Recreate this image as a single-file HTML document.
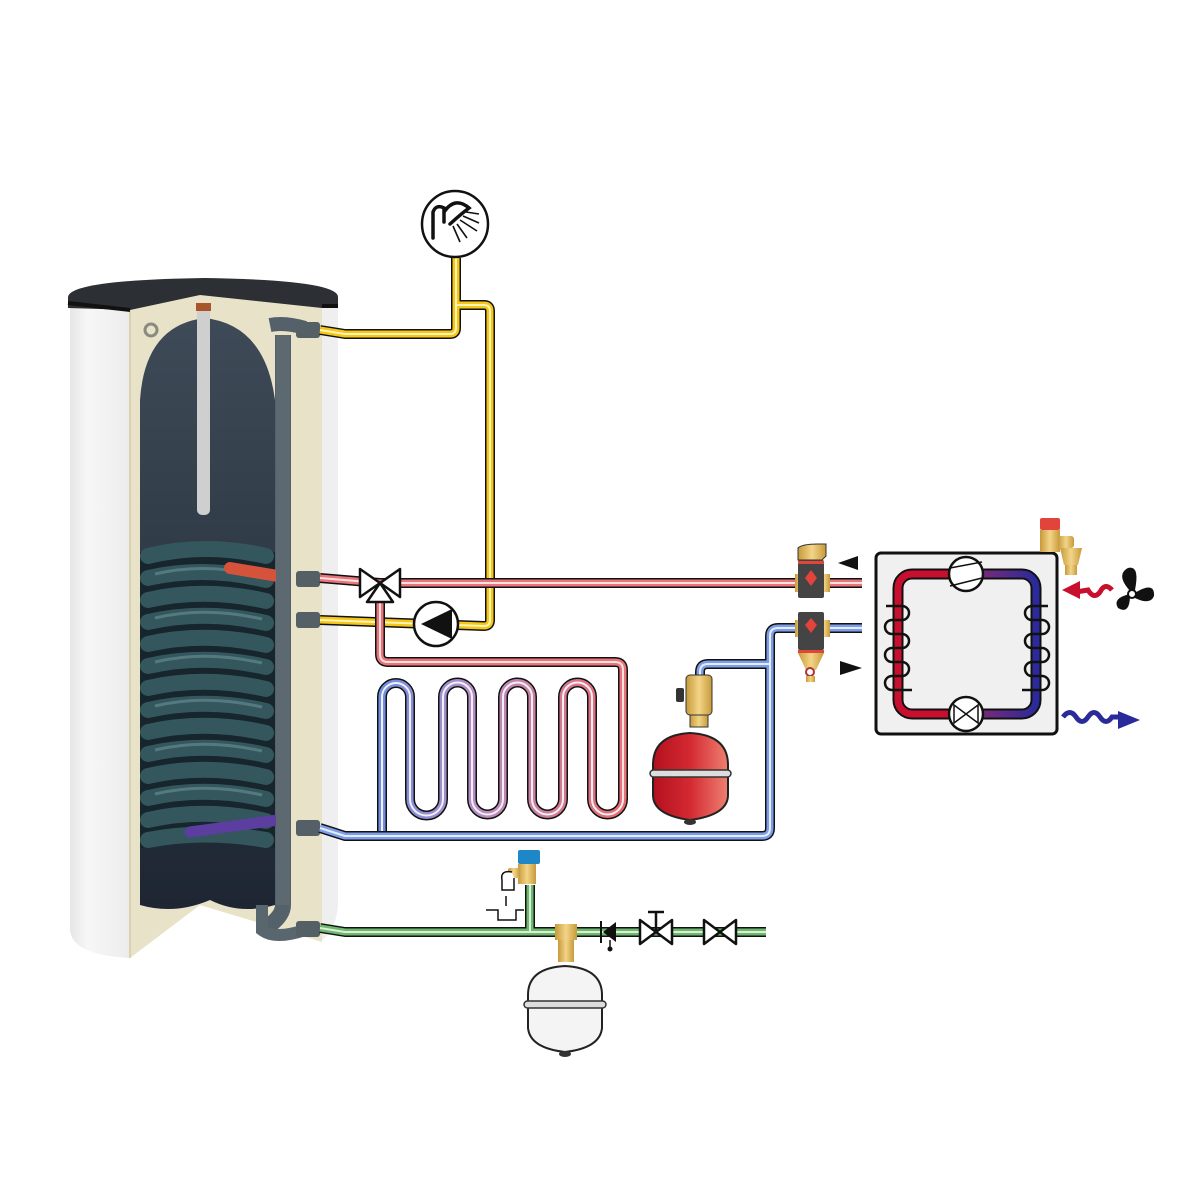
<!DOCTYPE html>
<html><head><meta charset="utf-8"><style>html,body{margin:0;padding:0;background:#fff}svg{display:block}</style></head>
<body>
<svg width="1200" height="1200" viewBox="0 0 1200 1200" xmlns="http://www.w3.org/2000/svg">
<defs>
<linearGradient id="ufh" x1="382" x2="623" y1="0" y2="0" gradientUnits="userSpaceOnUse">
<stop offset="0" stop-color="#6f8fe0"/><stop offset="0.4" stop-color="#b78fc0"/><stop offset="1" stop-color="#e86a6a"/></linearGradient>
<linearGradient id="hpL" x1="0" x2="1"><stop offset="0" stop-color="#c8102e"/><stop offset="0.45" stop-color="#c8102e"/><stop offset="0.6" stop-color="#7a2a78"/><stop offset="1" stop-color="#2a2a9a"/></linearGradient>
<linearGradient id="tankIns" x1="0" x2="1"><stop offset="0" stop-color="#e6e6e6"/><stop offset="0.3" stop-color="#f7f7f7"/><stop offset="1" stop-color="#ececec"/></linearGradient>
<linearGradient id="redv" x1="0" x2="1"><stop offset="0" stop-color="#b3101e"/><stop offset="0.5" stop-color="#d42a32"/><stop offset="1" stop-color="#ee8070"/></linearGradient>
<linearGradient id="inner" x1="0" x2="0" y1="0" y2="1"><stop offset="0" stop-color="#3e4a57"/><stop offset="1" stop-color="#1d2632"/></linearGradient>
<linearGradient id="brass" x1="0" x2="1"><stop offset="0" stop-color="#c79a3a"/><stop offset="0.5" stop-color="#f3d488"/><stop offset="1" stop-color="#c79a3a"/></linearGradient>
</defs>

<path d="M70 298 L70 930 Q72 955 130 958 L130 298 Z" fill="url(#tankIns)"/>
<path d="M322 298 L338 298 L338 905 Q336 930 322 940 Z" fill="#efefef"/>
<path d="M130 298 L200 285 L322 300 L322 942 L200 905 L130 958 Z" fill="#e8e3c8"/>
<path d="M130 298 L130 958" stroke="#d8d2b0" stroke-width="2"/>
<path d="M140 905 L140 400 Q145 325 205 318 Q265 325 275 400 L275 905 Q240 915 210 900 Q175 915 140 905 Z" fill="url(#inner)"/>
<path d="M283 335 L283 905 Q283 915 270 925 L262 935" stroke="#55616a" stroke-width="16" fill="none"/>
<path d="M270 325 Q285 322 305 328" stroke="#55616a" stroke-width="14" fill="none"/>
<path d="M262 905 L262 930 Q275 940 305 930" stroke="#5a666e" stroke-width="12" fill="none"/>
<path d="M68 297 Q70 280 205 278 Q338 280 338 297 L338 308 L322 308 L200 295 L130 310 L68 308 Z" fill="#2c2f33"/>
<path d="M68 303 L130 310" stroke="#111" stroke-width="4"/>
<path d="M322 306 L338 306" stroke="#111" stroke-width="4"/>
<rect x="197" y="303" width="13" height="212" rx="5" fill="#cfcfcf"/>
<rect x="196" y="303" width="15" height="8" fill="#a9542a"/>
<circle cx="151" cy="330" r="6" fill="none" stroke="#8a8a80" stroke-width="3"/>
<path d="M140 552 Q205 538 275 552 L275 848 Q205 836 140 848 Z" fill="#17252c"/>
<g stroke="#34565d" stroke-width="16" fill="none" stroke-linecap="round">
<path d="M148 556 Q205 542 266 556"/><path d="M148 578 Q205 565 266 580"/><path d="M148 600 Q205 587 266 601"/>
<path d="M148 622 Q205 609 266 623"/><path d="M148 644 Q205 631 266 645"/><path d="M148 666 Q205 653 266 667"/>
<path d="M148 688 Q205 675 266 689"/><path d="M148 710 Q205 697 266 711"/><path d="M148 732 Q205 719 266 733"/>
<path d="M148 754 Q205 741 266 755"/><path d="M148 776 Q205 763 266 777"/><path d="M148 798 Q205 785 266 799"/>
<path d="M148 820 Q205 807 266 821"/><path d="M148 840 Q205 829 266 840"/>
</g>
<g stroke="#5d8288" stroke-width="3" fill="none" opacity="0.8">
<path d="M155 574 Q205 562 262 576"/><path d="M155 618 Q205 606 262 619"/><path d="M155 662 Q205 650 262 663"/><path d="M155 706 Q205 694 262 707"/><path d="M155 750 Q205 738 262 751"/><path d="M155 794 Q205 782 262 795"/>
</g>
<path d="M230 568 L278 576" stroke="#d4533a" stroke-width="12" stroke-linecap="round"/>
<path d="M190 832 L278 820" stroke="#5b3ea0" stroke-width="11" stroke-linecap="round"/>
<rect x="276" y="335" width="14" height="570" fill="#5d6970"/>
<g fill="#555f66"><rect x="296" y="322" width="24" height="16" rx="3"/><rect x="296" y="571" width="24" height="16" rx="3"/><rect x="296" y="612" width="24" height="16" rx="3"/><rect x="296" y="820" width="24" height="16" rx="3"/><rect x="296" y="921" width="24" height="16" rx="3"/></g>

<g fill="none" stroke-linejoin="round" stroke-linecap="butt">
<path id="y1" d="M320 330 L345 334 L450 334 Q456 334 456 328 L456 258"/>
<path id="y2" d="M456 305 L484 305 Q490 305 490 311 L490 620 Q490 626 484 626 L320 620"/>
<g stroke="#111" stroke-width="10"><use href="#y1"/><use href="#y2"/></g>
<g stroke="#f5c518" stroke-width="7"><use href="#y1"/><use href="#y2"/></g>
<g stroke="#fff4b8" stroke-width="2"><use href="#y1"/><use href="#y2"/></g>

<path id="r1" d="M320 578 L380 583 L862 583"/>
<path id="r2" d="M380 583 L380 654 Q380 662 388 662 L615 662 Q623 662 623 670 L623 800"/>
<g stroke="#111" stroke-width="10"><use href="#r1"/><use href="#r2"/></g>
<g stroke="#e8757a" stroke-width="7"><use href="#r1"/><use href="#r2"/></g>
<g stroke="#fde0e0" stroke-width="2"><use href="#r1"/><use href="#r2"/></g>

<path id="uf" d="M382 835 L382 697 A14 14 0 0 1 410 697 L410 799 A16.5 16.5 0 0 0 443 799 L443 697 A14.5 14.5 0 0 1 472 697 L472 799 A15.5 15.5 0 0 0 503 799 L503 697 A14.5 14.5 0 0 1 532 697 L532 799 A15.5 15.5 0 0 0 563 799 L563 697 A14.5 14.5 0 0 1 592 697 L592 799 A15.5 15.5 0 0 0 623 799"/>
<use href="#uf" stroke="#111" stroke-width="10"/>
<use href="#uf" stroke="url(#ufh)" stroke-width="7"/>
<use href="#uf" stroke="#f4eefa" stroke-width="2"/>

<path id="b1" d="M320 828 L345 836 L762 836 Q770 836 770 828 L770 636 Q770 628 778 628 L862 628"/>
<path id="b2" d="M770 664 L708 664 Q700 664 700 672 L700 680"/>
<g stroke="#111" stroke-width="10"><use href="#b1"/><use href="#b2"/></g>
<g stroke="#7d9de6" stroke-width="7"><use href="#b1"/><use href="#b2"/></g>
<g stroke="#e4ecff" stroke-width="2"><use href="#b1"/><use href="#b2"/></g>

<path id="g1" d="M320 928 L345 932 L766 932"/>
<path id="g2" d="M530 932 L530 885"/>
<g stroke="#111" stroke-width="10"><use href="#g1"/><use href="#g2"/></g>
<g stroke="#6fb66f" stroke-width="7"><use href="#g1"/><use href="#g2"/></g>
<g stroke="#d8f0d8" stroke-width="2"><use href="#g1"/><use href="#g2"/></g>
</g>

<circle cx="455" cy="224" r="33" fill="#fff" stroke="#111" stroke-width="2.5"/>
<path d="M433 238 L433 212 Q436 204 444 208 L444 222 M444 212 Q455 196 469 208 Q461 214 450 224" fill="none" stroke="#111" stroke-width="3.5" stroke-linecap="round"/>
<g stroke="#111" stroke-width="1.6"><line x1="463" y1="216" x2="479" y2="223"/><line x1="460" y1="220" x2="477" y2="231"/><line x1="457" y1="224" x2="467" y2="238"/><line x1="453" y1="226" x2="460" y2="242"/><line x1="466" y1="212" x2="479" y2="214"/></g>

<g fill="#fff" stroke="#111" stroke-width="2.5" stroke-linejoin="round">
<path d="M360 569 L400 597 L400 569 L360 597 Z"/>
<path d="M380 583 L367 602 L393 602 Z"/>
</g>
<circle cx="436" cy="624" r="22" fill="#fff" stroke="#111" stroke-width="2.5"/>
<path d="M421 624 L452 609 L452 639 Z" fill="#111"/>

<rect x="686" y="675" width="26" height="40" rx="4" fill="url(#brass)" stroke="#333" stroke-width="1"/>
<rect x="676" y="688" width="8" height="14" rx="2" fill="#333"/>
<rect x="690" y="715" width="18" height="12" fill="url(#brass)" stroke="#333" stroke-width="1"/>
<path d="M653 765 Q653 735 690 733 Q728 735 728 765 L728 795 Q728 815 690 820 Q653 815 653 795 Z" fill="url(#redv)" stroke="#222" stroke-width="2"/>
<rect x="650" y="770" width="81" height="7" rx="3.5" fill="#ddd" stroke="#333" stroke-width="1.5"/>
<ellipse cx="690" cy="822" rx="6" ry="3" fill="#333"/>

<g>
<rect x="795" y="574" width="12" height="18" fill="url(#brass)"/><rect x="818" y="574" width="12" height="18" fill="url(#brass)"/>
<path d="M798 560 L798 548 Q802 544 818 544 L826 544 L826 556 L822 560 Z" fill="url(#brass)" stroke="#333"/>
<rect x="798" y="560" width="26" height="38" rx="2" fill="#444"/>
<rect x="798" y="561" width="26" height="3" fill="#e2433a"/>
<path d="M811 570 L817 578 L811 586 L805 578 Z" fill="#e2433a"/>
<rect x="795" y="620" width="12" height="17" fill="url(#brass)"/><rect x="818" y="620" width="12" height="17" fill="url(#brass)"/>
<rect x="798" y="612" width="26" height="38" rx="2" fill="#444"/>
<path d="M811 618 L817 625 L811 633 L805 625 Z" fill="#e2433a"/>
<rect x="798" y="650" width="26" height="3" fill="#e2433a"/>
<path d="M798 653 L824 653 L816 670 L806 670 Z" fill="url(#brass)"/>
<circle cx="810" cy="672" r="4" fill="#fff" stroke="#a33" stroke-width="2"/>
<rect x="806" y="676" width="9" height="6" fill="url(#brass)"/>
</g>
<path d="M858 556 L838 563 L858 570 Z" fill="#111"/>
<path d="M840 661 L862 668 L840 675 Z" fill="#111"/>

<rect x="876" y="553" width="181" height="181" rx="5" fill="#f0f0f0" stroke="#111" stroke-width="3"/>
<rect x="898" y="574" width="138" height="140" rx="14" fill="none" stroke="#111" stroke-width="11"/>
<rect x="898" y="574" width="138" height="140" rx="14" fill="none" stroke="url(#hpL)" stroke-width="7"/>
<g fill="none" stroke="#111" stroke-width="2.5">
<path d="M886 606 L902 606 A7 7 0 0 1 902 620 L892 620 A7 7 0 0 0 892 634 L902 634 A7 7 0 0 1 902 648 L892 648 A7 7 0 0 0 892 662 L902 662 A7 7 0 0 1 902 676 L892 676 A7 7 0 0 0 892 690 L912 690"/>
<path d="M1048 606 L1032 606 A7 7 0 0 0 1032 620 L1042 620 A7 7 0 0 1 1042 634 L1032 634 A7 7 0 0 0 1032 648 L1042 648 A7 7 0 0 1 1042 662 L1032 662 A7 7 0 0 0 1032 676 L1042 676 A7 7 0 0 1 1042 690 L1022 690"/>
</g>
<circle cx="966" cy="574" r="17" fill="#fff" stroke="#111" stroke-width="2.5"/>
<path d="M950 568 L982 562 M950 586 L982 578" stroke="#111" stroke-width="1.5"/>
<circle cx="966" cy="714" r="17" fill="#fff" stroke="#111" stroke-width="2.5"/>
<path d="M954 705 L978 723 L978 705 L954 723 Z" fill="none" stroke="#111" stroke-width="1.5"/>

<rect x="1040" y="518" width="20" height="12" rx="2" fill="#e2433a"/>
<rect x="1040" y="530" width="20" height="22" fill="url(#brass)"/>
<rect x="1058" y="536" width="16" height="12" rx="3" fill="url(#brass)"/>
<path d="M1060 548 L1082 548 L1078 565 L1064 565 Z" fill="url(#brass)"/>
<rect x="1065" y="565" width="12" height="10" fill="url(#brass)"/>

<path d="M1112 590 Q1105 582 1100 592 Q1094 600 1088 590 L1076 592" fill="none" stroke="#c8102e" stroke-width="5"/>
<path d="M1062 590 L1080 581 L1080 599 Z" fill="#c8102e"/>
<path d="M1063 717 Q1070 708 1076 717 Q1082 726 1088 717 Q1094 708 1100 717 Q1106 726 1112 717 L1122 717" fill="none" stroke="#2a2a9a" stroke-width="5"/>
<path d="M1140 720 L1118 711 L1118 729 Z" fill="#2a2a9a"/>
<g fill="#111">
<path d="M1131 592 Q1115 575 1128 568 Q1140 565 1135 590 Z"/>
<path d="M1133 594 Q1155 580 1154 596 Q1150 606 1133 597 Z"/>
<path d="M1130 595 Q1130 615 1118 608 Q1112 598 1130 594 Z"/>
<circle cx="1132" cy="594" r="4" fill="#fff" stroke="#111" stroke-width="2"/>
</g>

<rect x="518" y="850" width="22" height="14" rx="2" fill="#1d87c8"/>
<rect x="518" y="864" width="18" height="20" fill="url(#brass)"/>
<rect x="508" y="868" width="12" height="10" rx="2" fill="url(#brass)"/>
<path d="M512 872 Q500 870 502 880 L502 890 L514 890 L514 878" fill="#fff" stroke="#111" stroke-width="1.5"/>
<line x1="506" y1="896" x2="506" y2="906" stroke="#111" stroke-width="1.5"/>
<path d="M486 910 L498 910 L498 920 L516 920 L516 910 L524 910" fill="none" stroke="#111" stroke-width="1.5"/>
<rect x="555" y="924" width="22" height="16" fill="url(#brass)"/>
<rect x="558" y="940" width="16" height="22" fill="url(#brass)"/>
<path d="M528 995 Q528 968 565 966 Q602 968 602 995 L602 1028 Q600 1048 565 1052 Q530 1048 528 1028 Z" fill="#f4f4f4" stroke="#222" stroke-width="2"/>
<rect x="524" y="1001" width="82" height="7" rx="3.5" fill="#ddd" stroke="#333" stroke-width="1.5"/>
<ellipse cx="565" cy="1054" rx="6" ry="3" fill="#333"/>
<line x1="601" y1="921" x2="601" y2="943" stroke="#111" stroke-width="2"/>
<path d="M603 932 L616 922 L616 942 Z" fill="#111"/>
<line x1="610" y1="940" x2="610" y2="948" stroke="#111" stroke-width="1.5"/><circle cx="610" cy="949" r="2.5" fill="#111"/>
<path d="M640 920 L672 944 L672 920 L640 944 Z" fill="#fff" stroke="#111" stroke-width="2.5" stroke-linejoin="round"/>
<line x1="656" y1="932" x2="656" y2="913" stroke="#111" stroke-width="2.5"/><line x1="648" y1="912" x2="664" y2="912" stroke="#111" stroke-width="2.5"/>
<path d="M704 920 L736 944 L736 920 L704 944 Z" fill="#fff" stroke="#111" stroke-width="2.5" stroke-linejoin="round"/>
</svg>
</body></html>
